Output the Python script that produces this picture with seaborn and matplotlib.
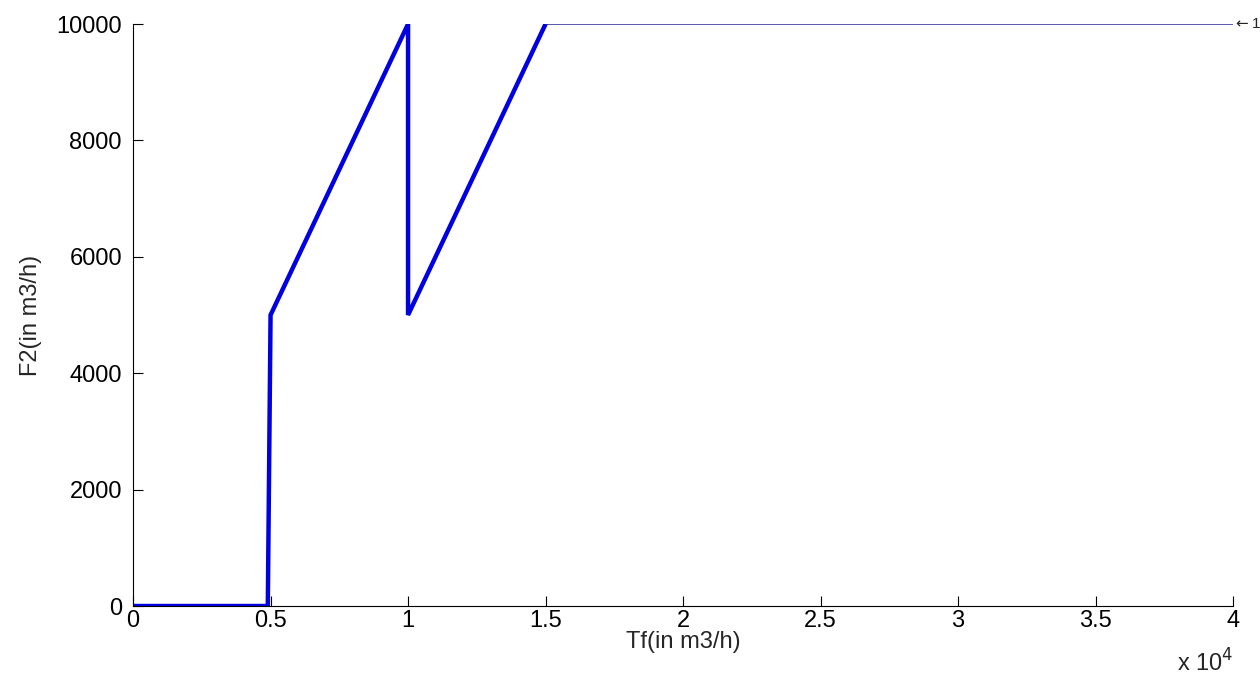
import matplotlib
matplotlib.use("Agg")
import matplotlib.pyplot as plt
import seaborn as sns
import pandas as pd

# Piecewise response of F2 against Tf
tf_active = [0, 4900, 5000, 10000, 10000, 15000]
f2_active = [0, 0, 5000, 10000, 5000, 10000]
tf_flat = [15000, 40000]
f2_flat = [10000, 10000]

x_ticks = [0, 5000, 10000, 15000, 20000, 25000, 30000, 35000, 40000]
x_tick_labels = ["0", "0.5", "1", "1.5", "2", "2.5", "3", "3.5", "4"]
y_ticks = [0, 2000, 4000, 6000, 8000, 10000]
y_tick_labels = ["0", "2000", "4000", "6000", "8000", "10000"]

sns.set_style("ticks")
plt.rcParams["font.family"] = ["Liberation Sans", "DejaVu Sans"]

fig = plt.figure(figsize=(12.6, 6.87), dpi=100)
ax = fig.add_axes([0.1056, 0.1179, 0.873, 0.8471])

df_active = pd.DataFrame({"Tf": tf_active, "F2": f2_active})
df_flat = pd.DataFrame({"Tf": tf_flat, "F2": f2_flat})

sns.lineplot(data=df_active, x="Tf", y="F2", ax=ax, sort=False, estimator=None,
             color="#0000e0", linewidth=3.2, solid_joinstyle="miter")
sns.lineplot(data=df_flat, x="Tf", y="F2", ax=ax, sort=False, estimator=None,
             color="#2a2a9a", linewidth=1.1)

ax.set_xlim(0, 40000)
ax.set_ylim(0, 10000)
ax.set_xticks(x_ticks)
ax.set_xticklabels(x_tick_labels)
ax.set_yticks(y_ticks)
ax.set_yticklabels(y_tick_labels)

ax.tick_params(direction="in", length=7, width=0.8, labelsize=17, colors="black")
ax.tick_params(axis="x", pad=3)
ax.tick_params(axis="y", pad=8)
for side in ("top", "right"):
    ax.spines[side].set_visible(False)
for side in ("left", "bottom"):
    ax.spines[side].set_linewidth(0.8)
    ax.spines[side].set_color("black")

ax.set_xlabel("Tf(in m3/h)", fontsize=17, labelpad=-1)
ax.set_ylabel("F2(in m3/h)", fontsize=17, labelpad=10)

ax.text(1.0, -0.075, r"x 10$^{4}$", transform=ax.transAxes, ha="right", va="top", fontsize=17)
ax.annotate(r"$\leftarrow$1", xy=(tf_flat[-1], f2_flat[-1]), xytext=(0, 0),
            textcoords="offset points", ha="left", va="center", fontsize=11,
            annotation_clip=False)

fig.savefig("out.png", dpi=100, facecolor="white")
